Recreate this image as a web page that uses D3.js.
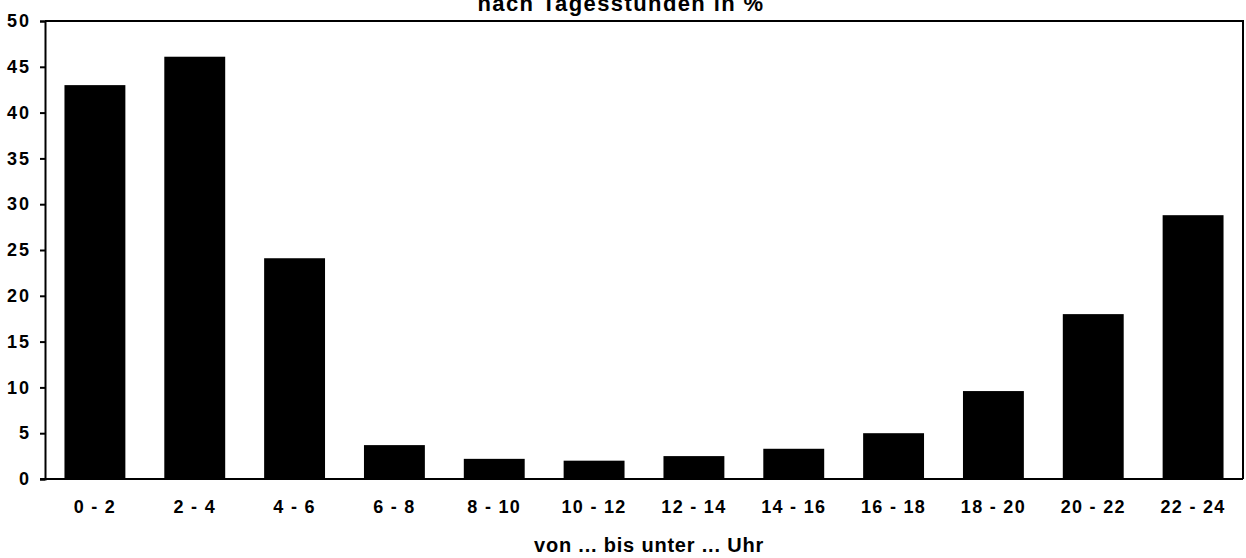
<!DOCTYPE html>
<html>
<head>
<meta charset="utf-8">
<script src="https://cdn.jsdelivr.net/npm/d3@7"></script>
<style>
  html, body { margin: 0; padding: 0; background: #fff; }
  svg { display: block; }
  text { font-family: "Liberation Sans", Arial, sans-serif; font-weight: bold; fill: #000; }
</style>
</head>
<body>
<svg id="chart" width="1246" height="558"></svg>
<script>
const categories = ["0 - 2", "2 - 4", "4 - 6", "6 - 8", "8 - 10", "10 - 12", "12 - 14", "14 - 16", "16 - 18", "18 - 20", "20 - 22", "22 - 24"];
const values = [43.0, 46.1, 24.1, 3.7, 2.2, 2.0, 2.5, 3.3, 5.0, 9.6, 18.0, 28.8];
const yTicks = [0, 5, 10, 15, 20, 25, 30, 35, 40, 45, 50];
const titleText = "nach Tagesstunden in %";
const xTitle = "von ... bis unter ... Uhr";

const svg = d3.select("#chart");
const mLeft = 45, mRight = 1243, mTop = 21, mBottom = 479;

const x = d3.scaleBand().domain(categories).range([mLeft, mRight]).paddingInner(0.39).paddingOuter(0.195);
const y = d3.scaleLinear().domain([0, 50]).range([mBottom, mTop]);

// title (partly cut off at top, as in the source)
svg.append("text").attr("x", 621).attr("y", 11).attr("text-anchor", "middle")
  .style("font-size", "22px").style("letter-spacing", "1.4px").text(titleText);

// bars
svg.append("g").selectAll("rect").data(values).join("rect")
  .attr("x", (d, i) => x(categories[i]))
  .attr("width", x.bandwidth())
  .attr("y", d => y(d))
  .attr("height", d => y(0) - y(d))
  .attr("fill", "#000");

// frame: top and right border
svg.append("path")
  .attr("d", `M${mLeft},${mTop}H${mRight}V${mBottom}`)
  .attr("fill", "none").attr("stroke", "#000").attr("stroke-width", 2);

// y axis
const yAxis = svg.append("g").attr("transform", `translate(${mLeft},0)`)
  .call(d3.axisLeft(y).tickValues(yTicks).tickSize(5).tickPadding(9));
yAxis.select(".domain").attr("stroke-width", 2);
yAxis.selectAll(".tick line").attr("stroke-width", 2);
yAxis.selectAll("text").style("font-size", "18px").style("letter-spacing", "2px");

// x axis
const xAxis = svg.append("g").attr("transform", `translate(0,${mBottom})`)
  .call(d3.axisBottom(x).tickSize(0).tickPadding(21));
xAxis.select(".domain").attr("stroke-width", 2).attr("d", `M${mLeft - 5},0H${mRight}`);
xAxis.selectAll("text").style("font-size", "18px").style("letter-spacing", "1.3px");

svg.append("text").attr("x", 649).attr("y", 552).attr("text-anchor", "middle")
  .style("font-size", "20px").style("letter-spacing", "0.8px").text(xTitle);
</script>
</body>
</html>
